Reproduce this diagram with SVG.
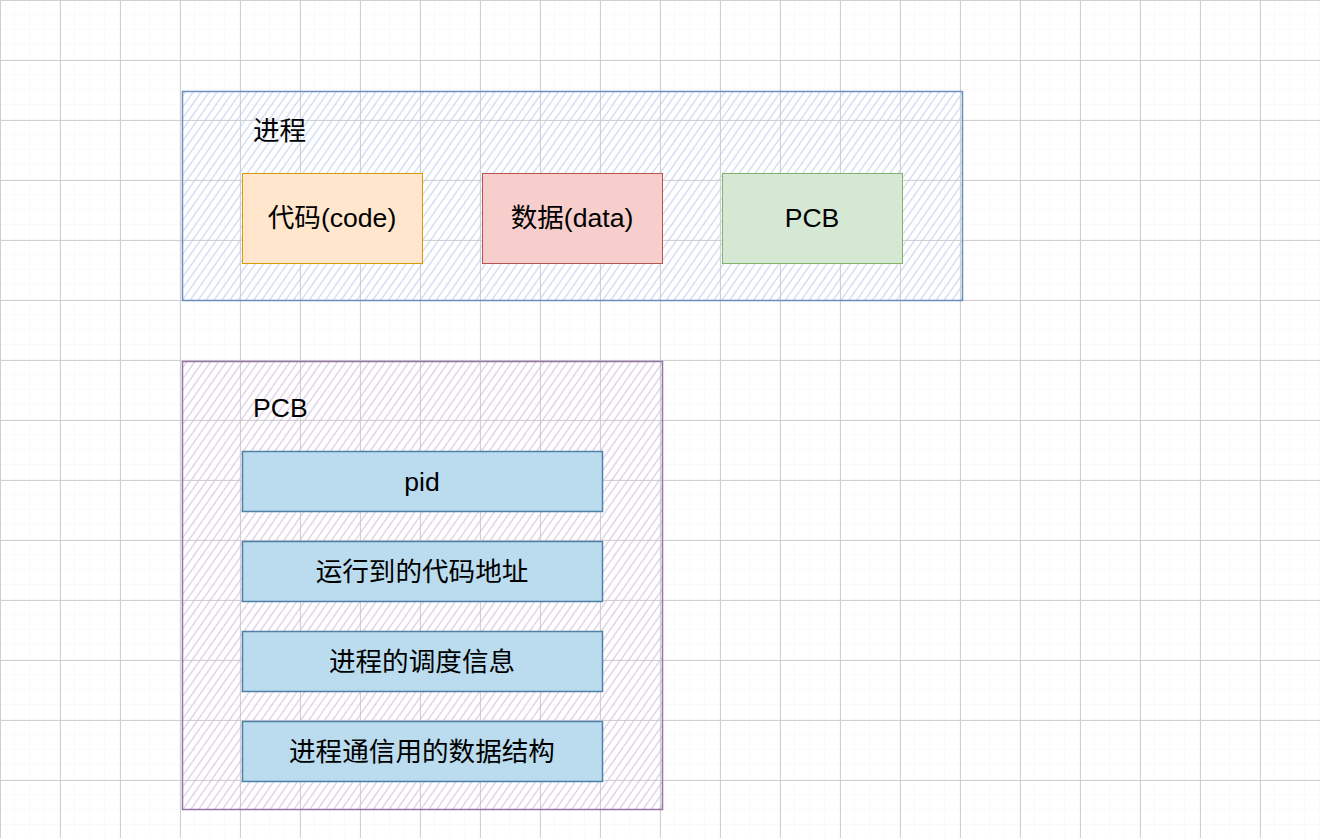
<svg xmlns="http://www.w3.org/2000/svg" width="1320" height="838" viewBox="0 0 1320 838">
<defs>
<pattern id="gridMinor" width="15" height="15" patternUnits="userSpaceOnUse">
<path d="M15.5 0V15M0 15.5H15" stroke="#ececec" stroke-width="1.5" fill="none"/>
</pattern>
<pattern id="gridMajor" width="60" height="60" patternUnits="userSpaceOnUse">
<path d="M0.5 0V60M0 0.5H60" stroke="#d0d0d0" stroke-width="1" fill="none"/>
</pattern>
<pattern id="hatchBlue" width="6.5" height="10" patternUnits="userSpaceOnUse" patternTransform="rotate(35)">
<line x1="3" y1="0" x2="3" y2="10" stroke="#bccff0" stroke-width="1"/>
</pattern>
<pattern id="hatchPurple" width="6.5" height="10" patternUnits="userSpaceOnUse" patternTransform="rotate(35)">
<line x1="3" y1="0" x2="3" y2="10" stroke="#d0bfdc" stroke-width="1"/>
</pattern>
</defs>
<style>
.lbl{font-family:"Liberation Sans","Noto Sans CJK SC",sans-serif;font-size:26.6px;fill:#000;}
.c{text-anchor:middle;dominant-baseline:central;}
.item{fill:#badcee;stroke:#4e80a8;stroke-width:1.5;}
</style>
<rect width="1320" height="838" fill="#ffffff"/>
<rect width="1320" height="838" fill="url(#gridMinor)"/>
<rect width="1320" height="838" fill="url(#gridMajor)"/>

<g id="process">
<rect x="182.5" y="91.5" width="780" height="209" fill="url(#hatchBlue)" stroke="#6c8ebf" stroke-width="1.5"/>
<text class="lbl" x="253" y="131" dominant-baseline="central">进程</text>
</g>
<g id="code">
<rect x="242.5" y="173.5" width="180" height="90" fill="#ffe6cc" stroke="#d79b00" stroke-width="1"/>
<text class="lbl c" x="332" y="218">代码(code)</text>
</g>
<g id="data">
<rect x="482.5" y="173.5" width="180" height="90" fill="#f8cecc" stroke="#b85450" stroke-width="1"/>
<text class="lbl c" x="572" y="218">数据(data)</text>
</g>
<g id="pcb">
<rect x="722.5" y="173.5" width="180" height="90" fill="#d5e8d4" stroke="#82b366" stroke-width="1"/>
<text class="lbl c" x="812" y="218">PCB</text>
</g>

<g id="pcb-detail">
<rect x="182.5" y="361.5" width="480" height="448" fill="url(#hatchPurple)" stroke="#9673a6" stroke-width="1.5"/>
<text class="lbl" x="253" y="408" dominant-baseline="central">PCB</text>
</g>
<g id="pid">
<rect class="item" x="242.5" y="451.5" width="360" height="60"/>
<text class="lbl c" x="422" y="482">pid</text>
</g>
<g id="code-addr">
<rect class="item" x="242.5" y="541.5" width="360" height="60"/>
<text class="lbl c" x="422" y="572">运行到的代码地址</text>
</g>
<g id="sched">
<rect class="item" x="242.5" y="631.5" width="360" height="60"/>
<text class="lbl c" x="422" y="662">进程的调度信息</text>
</g>
<g id="ipc">
<rect class="item" x="242.5" y="721.5" width="360" height="60"/>
<text class="lbl c" x="422" y="752">进程通信用的数据结构</text>
</g>
<g id="connectors"></g>
</svg>
